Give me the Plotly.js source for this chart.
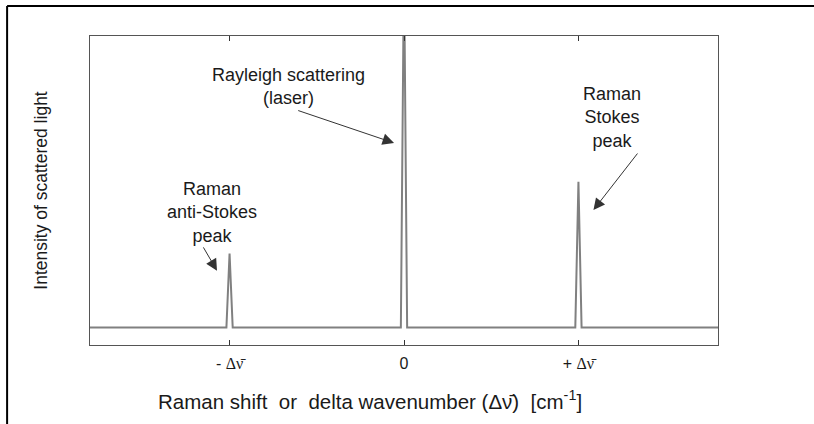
<!DOCTYPE html>
<html>
<head>
<meta charset="utf-8">
<script src="https://cdn.plot.ly/plotly-3.0.1.min.js"></script>
<style>html,body{margin:0;padding:0;background:#fff;}#chart{width:814px;height:424px;}</style>
</head>
<body>
<div id="chart"></div>
<script>
// Spectrum: Raman shift (units of delta-nu) vs. relative intensity
const shift = [-1.8, -1.018, -1.0, -0.982, -0.018, 0.0, 0.018, 0.982, 1.0, 1.018, 1.8];
const intensity = [0, 0, 0.254, 0, 0, 1.25, 0, 0, 0.50, 0, 0];

// Tick positions and labels
const tickVals = [-1, 0, 1];
const DNU = '<span style="font-family:Liberation Serif, Times New Roman, serif;">\u0394\u03BD\u0304</span>';
const tickLabels = ['- ' + DNU, '0', '+ ' + DNU];

// Labels
const peakLabels = ['Raman<br>anti-Stokes<br>peak', 'Rayleigh scattering<br>(laser)', 'Raman<br>Stokes<br>peak'];
const xTitle = 'Raman shift\u00a0 or\u00a0 delta wavenumber (\u0394\u03BD\u0304)\u00a0 [cm<sup>-1</sup>]';
const yTitle = 'Intensity of scattered light';

const FONT = 'Liberation Sans, Arial, sans-serif';
const TXT = '#1a1a1a';

const trace = {
  x: shift, y: intensity, type: 'scatter', mode: 'lines',
  line: {color: '#808080', width: 2},
  hoverinfo: 'skip', showlegend: false
};

const textPos = [[-1.103, 0.396], [-0.661, 0.828], [1.195, 0.719]];
const arrowPos = [
  {x: -1.072, y: 0.195, ax: -1.155, ay: 0.28},
  {x: -0.057, y: 0.633, ax: -0.615, ay: 0.746},
  {x: 1.086, y: 0.403, ax: 1.345, ay: 0.602}
];

const annotations = [];
peakLabels.forEach((t, i) => {
  annotations.push({x: textPos[i][0], y: textPos[i][1], xref: 'x', yref: 'y', text: t,
    showarrow: false, font: {family: FONT, size: 18, color: TXT}, align: 'center'});
  const a = arrowPos[i];
  annotations.push({x: a.x, y: a.y, ax: a.ax, ay: a.ay, xref: 'x', yref: 'y', axref: 'x', ayref: 'y',
    text: '', showarrow: true, arrowhead: 2, arrowsize: 2.3, arrowwidth: 1, arrowcolor: '#333'});
});
// x-axis title (placed as annotation to match its horizontal offset)
annotations.push({x: 0.446, y: -0.178, xref: 'paper', yref: 'paper', text: xTitle, showarrow: false,
  font: {family: FONT, size: 20.5, color: TXT}, xanchor: 'center', yanchor: 'middle'});

const layout = {
  width: 814, height: 424,
  margin: {l: 90, r: 96, t: 36, b: 79},
  paper_bgcolor: '#fff', plot_bgcolor: '#fff',
  font: {family: FONT, color: TXT},
  xaxis: {
    range: [-1.8, 1.8], tickmode: 'array', tickvals: tickVals, ticktext: tickLabels,
    ticks: 'inside', ticklen: 5, tickcolor: '#333', tickwidth: 1, ticklabelstandoff: 4,
    showline: true, linecolor: '#555', linewidth: 1, mirror: 'ticks',
    showgrid: false, zeroline: false, tickfont: {family: FONT, size: 16, color: TXT}
  },
  yaxis: {
    range: [-0.06, 1.0], showticklabels: false, ticks: '',
    showline: true, linecolor: '#555', linewidth: 1, mirror: true,
    showgrid: false, zeroline: false,
    title: {text: yTitle, font: {family: FONT, size: 17.5, color: TXT}, standoff: 36}
  },
  annotations: annotations,
  shapes: [
    {type: 'line', xref: 'paper', yref: 'paper', x0: -0.132, y0: 1.097, x1: 1.2, y1: 1.097, line: {color: '#000', width: 2}},
    {type: 'line', xref: 'paper', yref: 'paper', x0: -0.132, y0: 1.097, x1: -0.132, y1: -0.3, line: {color: '#000', width: 2}}
  ]
};

Plotly.newPlot('chart', [trace], layout, {displayModeBar: false, staticPlot: true});
</script>
</body>
</html>
